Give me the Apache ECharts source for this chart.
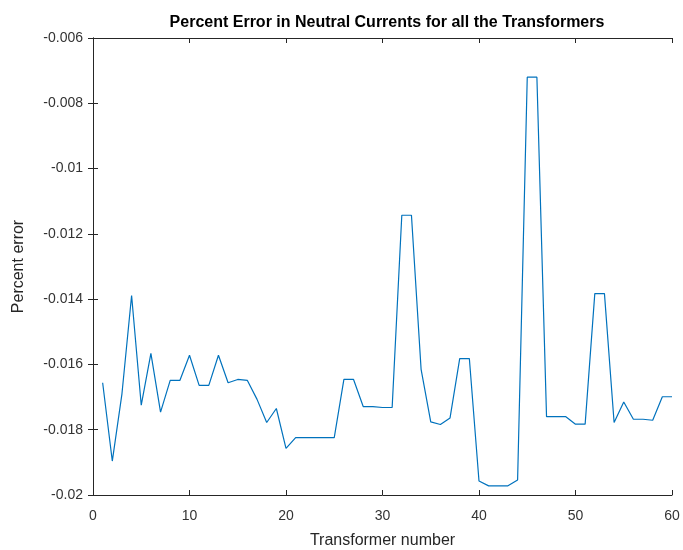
<!DOCTYPE html>
<html>
<head>
<meta charset="utf-8">
<script src="https://cdn.jsdelivr.net/npm/echarts@6/dist/echarts.min.js"></script>
<style>
  html, body { margin: 0; padding: 0; background: #fff; }
  #main { width: 683px; height: 550px; }
</style>
</head>
<body>
<div id="main"></div>
<script>
// percent error per transformer (1..60)
var percentError = [
  -0.01656, -0.01896, -0.01690, -0.01389, -0.01725, -0.01566, -0.01746, -0.01649, -0.01649, -0.01572,
  -0.01664, -0.01664, -0.01572, -0.01656, -0.01646, -0.01649, -0.01707, -0.01778, -0.01735, -0.01857,
  -0.01824, -0.01824, -0.01824, -0.01824, -0.01824, -0.01646, -0.01646, -0.01729, -0.01729, -0.01732,
  -0.01732, -0.01143, -0.01143, -0.01615, -0.01776, -0.01784, -0.01764, -0.01582, -0.01582, -0.01957,
  -0.01972, -0.01972, -0.01972, -0.01954, -0.00720, -0.00720, -0.01760, -0.01760, -0.01760, -0.01783,
  -0.01783, -0.01383, -0.01383, -0.01778, -0.01715, -0.01768, -0.01768, -0.01771, -0.01699, -0.01699
];
var xTicks = [0, 10, 20, 30, 40, 50, 60];
var yTicks = [-0.02, -0.018, -0.016, -0.014, -0.012, -0.01, -0.008, -0.006];

var font = 'Liberation Sans, Arial, Helvetica, sans-serif';
var axisColor = '#262626';

var myChart = echarts.init(document.getElementById('main'));

var boxAxis = {
  axisLine: { show: true, lineStyle: { color: axisColor, width: 1 } },
  axisTick: { show: true, inside: true, length: 5, lineStyle: { color: axisColor } },
  splitLine: { show: false }
};

myChart.setOption({
  backgroundColor: '#fff',
  animation: false,
  title: {
    text: 'Percent Error in Neutral Currents for all the Transformers',
    left: 382,
    textAlign: 'center',
    top: 10,
    textStyle: { fontFamily: font, fontSize: 16, fontWeight: 'bold', color: '#000' }
  },
  grid: { left: 93, right: 11, top: 38, bottom: 55, outerBoundsMode: 'none' },
  xAxis: [
    Object.assign({}, boxAxis, {
      type: 'value',
      min: xTicks[0],
      max: xTicks[xTicks.length - 1],
      interval: 10,
      name: 'Transformer number',
      nameLocation: 'middle',
      nameGap: 38,
      nameTextStyle: { fontFamily: font, fontSize: 16, color: axisColor },
      axisLabel: { fontFamily: font, fontSize: 14, color: '#333', margin: 14 }
    }),
    Object.assign({}, boxAxis, {
      type: 'value', position: 'top',
      min: xTicks[0], max: xTicks[xTicks.length - 1], interval: 10,
      axisLabel: { show: false }
    })
  ],
  yAxis: [
    Object.assign({}, boxAxis, {
      type: 'value',
      min: yTicks[0],
      max: yTicks[yTicks.length - 1],
      interval: 0.002,
      name: 'Percent error',
      nameLocation: 'middle',
      nameGap: 66,
      nameTextStyle: { fontFamily: font, fontSize: 16, color: axisColor },
      axisLabel: { fontFamily: font, fontSize: 14, color: '#333', margin: 10 }
    }),
    Object.assign({}, boxAxis, {
      type: 'value', position: 'right',
      min: yTicks[0], max: yTicks[yTicks.length - 1], interval: 0.002,
      axisLabel: { show: false }
    })
  ],
  series: [
    {
      name: 'Percent error',
      type: 'line',
      xAxisIndex: 0,
      yAxisIndex: 0,
      data: percentError.map(function (v, i) { return [i + 1, v]; }),
      showSymbol: false,
      symbol: 'none',
      lineStyle: { color: '#0072BD', width: 1.2 }
    }
  ]
});
</script>
</body>
</html>
